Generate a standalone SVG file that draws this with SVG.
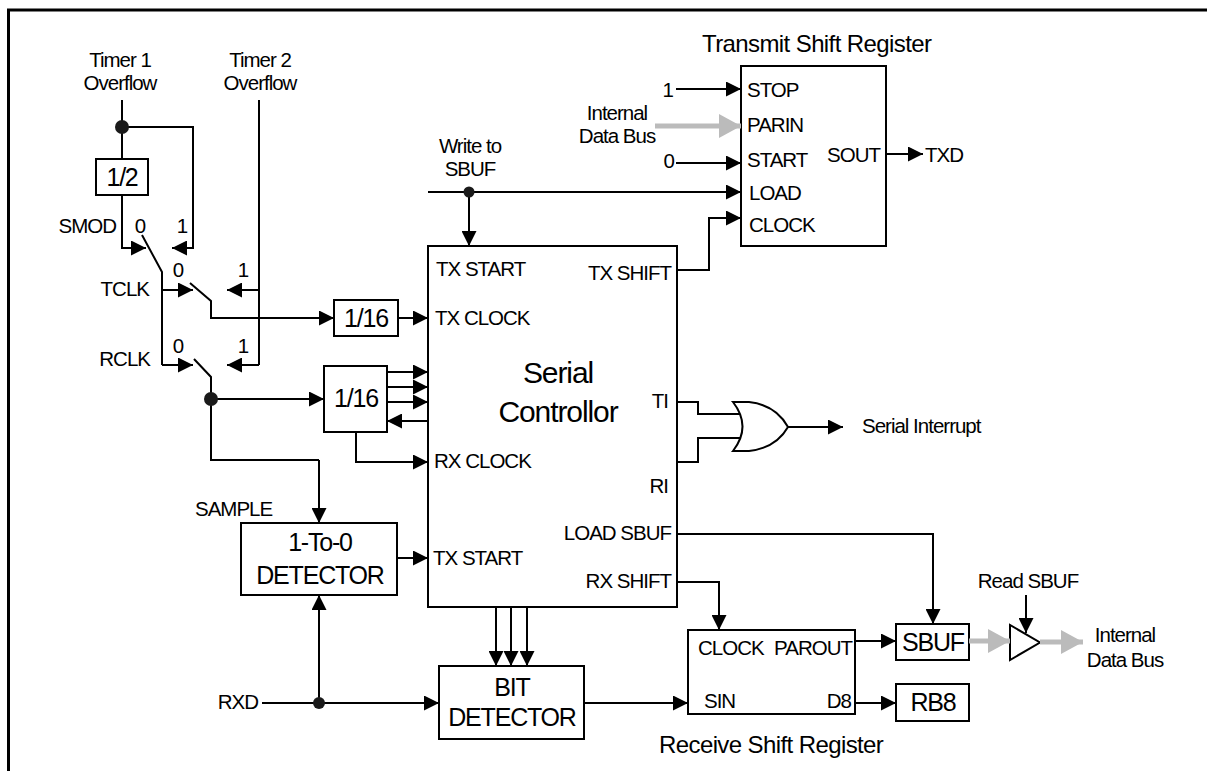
<svg xmlns="http://www.w3.org/2000/svg" width="1207" height="771" viewBox="0 0 1207 771">
<style>
text{font-family:"Liberation Sans",Arial,sans-serif;fill:#000}
.s{font-size:20.5px;letter-spacing:-1px}
.b{font-size:25px;letter-spacing:-1.2px}
.t{font-size:24px;letter-spacing:-0.6px}
.c{font-size:30px;letter-spacing:-1.1px}
.m{text-anchor:middle}
.e{text-anchor:end}
.box{fill:#fff;stroke:#000;stroke-width:2}
.w{fill:none;stroke:#000;stroke-width:2}
.a{fill:none;stroke:#000;stroke-width:2;marker-end:url(#ah)}
.g{fill:none;stroke:#bbb;stroke-width:5;marker-end:url(#gh)}
.dot{fill:#1a1a1a}
</style>
<defs>
<marker id="ah" markerUnits="userSpaceOnUse" markerWidth="15" markerHeight="15" refX="14" refY="7" orient="auto" viewBox="0 0 14 14">
<path d="M0,0 L14,7 L0,14 z" fill="#000"/>
</marker>
<marker id="gh" markerUnits="userSpaceOnUse" markerWidth="23" markerHeight="24" refX="22" refY="12" orient="auto" viewBox="0 0 22 24">
<path d="M0,0 L22,12 L0,24 z" fill="#bbb"/>
</marker>
</defs>
<rect width="1207" height="771" fill="#fff"/>
<path d="M8.5,771 V10 H1207" fill="none" stroke="#000" stroke-width="3"/>

<g id="labels-clock">
<text class="s m" x="120" y="67">Timer 1</text>
<text class="s m" x="120" y="90">Overflow</text>
<text class="s m" x="260" y="67">Timer 2</text>
<text class="s m" x="260" y="90">Overflow</text>
<text class="s e" x="116" y="233">SMOD</text>
<text class="s m" x="140" y="233">0</text>
<text class="s m" x="182" y="233">1</text>
<text class="s e" x="149" y="296">TCLK</text>
<text class="s m" x="178" y="277">0</text>
<text class="s m" x="243" y="277">1</text>
<text class="s e" x="150" y="366">RCLK</text>
<text class="s m" x="178" y="353">0</text>
<text class="s m" x="243" y="353">1</text>
<text class="s" x="195" y="516">SAMPLE</text>
<text class="s e" x="258" y="709">RXD</text>
</g>

<g id="div2">
<rect class="box" x="96" y="159" width="52" height="36"/>
<text class="b m" x="122" y="186">1/2</text>
</g>

<g id="div16-tx">
<rect class="box" x="334" y="300" width="64" height="36"/>
<text class="b m" x="366" y="327">1/16</text>
</g>

<g id="div16-rx">
<rect class="box" x="324" y="366" width="63" height="66"/>
<text class="b m" x="356" y="407">1/16</text>
</g>

<g id="detector-1to0">
<rect class="box" x="241" y="523" width="156" height="72"/>
<text class="b m" x="320" y="551">1-To-0</text>
<text class="b m" x="320" y="584">DETECTOR</text>
</g>

<g id="bit-detector">
<rect class="box" x="439" y="666" width="145" height="73"/>
<text class="b m" x="512" y="696">BIT</text>
<text class="b m" x="512" y="726">DETECTOR</text>
</g>

<g id="serial-controller">
<rect class="box" x="428" y="246" width="249" height="361"/>
<text class="c m" x="558" y="383">Serial</text>
<text class="c m" x="558" y="422">Controllor</text>
<text class="s" x="436" y="276">TX START</text>
<text class="s e" x="671" y="280">TX SHIFT</text>
<text class="s" x="435" y="325">TX CLOCK</text>
<text class="s e" x="668" y="408">TI</text>
<text class="s" x="434" y="468">RX CLOCK</text>
<text class="s e" x="668" y="493">RI</text>
<text class="s e" x="671" y="540">LOAD SBUF</text>
<text class="s" x="433" y="565">TX START</text>
<text class="s e" x="671" y="588">RX SHIFT</text>
</g>

<g id="transmit-shift-register">
<text class="t" x="702" y="52">Transmit Shift Register</text>
<rect class="box" x="741" y="66" width="145" height="180"/>
<text class="s" x="747" y="97">STOP</text>
<text class="s" x="747" y="132">PARIN</text>
<text class="s" x="747" y="167">START</text>
<text class="s" x="749" y="200">LOAD</text>
<text class="s" x="749" y="232">CLOCK</text>
<text class="s e" x="880" y="162">SOUT</text>
</g>

<g id="tx-inputs">
<text class="s e" x="673" y="97">1</text>
<text class="s e" x="674" y="168">0</text>
<text class="s m" x="617" y="120">Internal</text>
<text class="s m" x="617" y="143">Data Bus</text>
<text class="s m" x="470" y="153">Write to</text>
<text class="s m" x="470" y="176">SBUF</text>
<text class="s" x="925" y="162">TXD</text>
</g>

<g id="or-gate">
<path d="M733,402 L749,402 Q776,405 788,427 Q776,448 749,451 L733,451 Q752,426.5 733,402 z" fill="#fff" stroke="#000" stroke-width="2"/>
<text class="s" x="862" y="433">Serial Interrupt</text>
</g>

<g id="receive-shift-register">
<rect class="box" x="688" y="630" width="167" height="84"/>
<text class="s" x="698" y="655">CLOCK</text>
<text class="s e" x="852" y="655">PAROUT</text>
<text class="s" x="704" y="708">SIN</text>
<text class="s e" x="851" y="708">D8</text>
<text class="t" x="659" y="753">Receive Shift Register</text>
</g>

<g id="sbuf">
<rect class="box" x="896" y="624" width="73" height="36"/>
<text class="b m" x="933" y="651">SBUF</text>
</g>

<g id="rb8">
<rect class="box" x="896" y="684" width="73" height="37"/>
<text class="b m" x="933" y="711">RB8</text>
</g>

<g id="read-buffer">
<path d="M1010,625 L1010,660 L1040,642.5 z" fill="#fff" stroke="#000" stroke-width="2"/>
<text class="s m" x="1028" y="588">Read SBUF</text>
<text class="s m" x="1125" y="642">Internal</text>
<text class="s m" x="1125" y="667">Data Bus</text>
</g>

<g id="connectors">
<path class="w" d="M122,100 V159"/>
<path class="a" d="M122,127 H193 V248 H172"/>
<path class="a" d="M122,195 V248 H146"/>
<circle class="dot" cx="122" cy="127" r="7"/>
<path class="w" d="M142,235 L162,272 V365"/>
<path class="a" d="M162,290 H193"/>
<path class="a" d="M162,365 H193"/>
<path class="w" d="M259,100 V365"/>
<path class="a" d="M259,290 H227"/>
<path class="a" d="M259,365 H227"/>
<path class="a" d="M190,283 L211,301 V318 H334"/>
<path class="a" d="M398,318 H428"/>
<path class="w" d="M194,359 L211,377 V460 H319"/>
<path class="a" d="M319,460 V523"/>
<path class="a" d="M211,399 H324"/>
<circle class="dot" cx="211" cy="399" r="7"/>
<path class="a" d="M387,372 H428"/>
<path class="a" d="M387,387 H428"/>
<path class="a" d="M387,402 H428"/>
<path class="a" d="M428,421 H387"/>
<path class="a" d="M356,432 V462 H428"/>
<path class="a" d="M397,558 H428"/>
<path class="a" d="M262,703 H439"/>
<path class="a" d="M319,703 V595"/>
<circle class="dot" cx="319" cy="703" r="6"/>
<path class="a" d="M496,607 V666"/>
<path class="a" d="M511,607 V666"/>
<path class="a" d="M527,607 V666"/>
<path class="a" d="M584,703 H688"/>
<path class="a" d="M428,192 H741"/>
<path class="a" d="M469,192 V246"/>
<circle class="dot" cx="469" cy="192" r="5.5"/>
<path class="a" d="M676,89 H741"/>
<path class="a" d="M676,163 H741"/>
<path class="g" d="M655,126 H741"/>
<path class="a" d="M677,270 H709 V218 H741"/>
<path class="a" d="M886,154 H923"/>
<path class="w" d="M677,402 H698 V414 H740"/>
<path class="w" d="M677,462 H698 V438 H740"/>
<path class="a" d="M788,427 H843"/>
<path class="a" d="M677,534 H933 V624"/>
<path class="a" d="M677,582 H719 V630"/>
<path class="a" d="M855,641 H896"/>
<path class="a" d="M855,703 H896"/>
<path class="g" d="M969,641 H1010"/>
<path class="g" d="M1040,642 H1083"/>
<path class="a" d="M1026,595 V633"/>
</g>
</svg>
